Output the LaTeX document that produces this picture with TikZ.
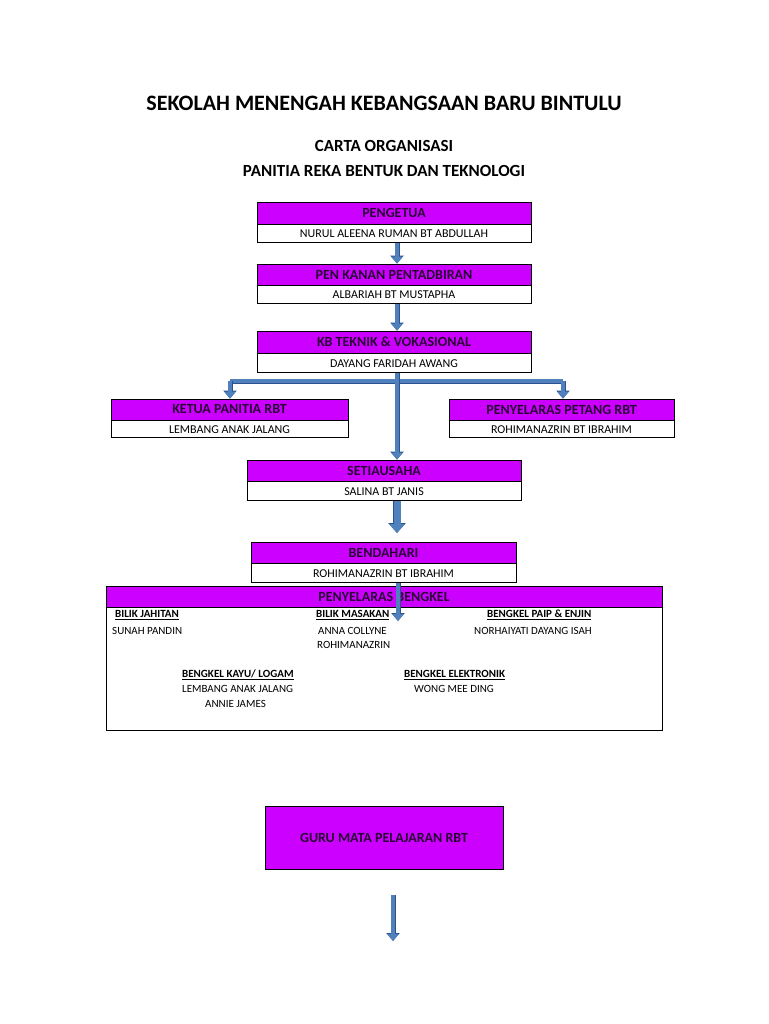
\documentclass[tikz,border=0pt]{standalone}
\usepackage{fontspec}
\setmainfont{Carlito}
\usetikzlibrary{arrows.meta}
\definecolor{mag}{RGB}{204,0,255}
\definecolor{blu}{RGB}{79,129,189}
\definecolor{bluD}{RGB}{47,82,143}
\begin{document}
\begin{tikzpicture}[x=1pt,y=-1pt,
 hdr/.style={draw=black,line width=0.8pt,fill=mag,inner sep=0pt,font=\fontsize{14}{16}\selectfont\bfseries,text=black!80!mag},
 nm/.style={draw=black,line width=0.8pt,fill=white,inner sep=0pt,font=\fontsize{12}{14}\selectfont},
 arr/.style={draw=blu,line width=3.5pt,-{Triangle[width=11pt,length=7pt]},preaction={draw=bluD,line width=5pt,-{Triangle[width=13pt,length=8pt]}}},
 ln/.style={draw=blu,line width=3.5pt,preaction={draw=bluD,line width=5pt}},
 sub/.style={anchor=west,inner sep=0pt,font=\fontsize{11}{13}\selectfont\bfseries},
 per/.style={anchor=west,inner sep=0pt,font=\fontsize{11}{13}\selectfont}]
\useasboundingbox[fill=white] (0,0) rectangle (768,1024);
\node[font=\fontsize{22}{26}\selectfont\bfseries] (t1) at (384,103) {SEKOLAH MENENGAH KEBANGSAAN BARU BINTULU};
\node[font=\fontsize{17}{20}\selectfont\bfseries] (t2) at (384,146) {CARTA ORGANISASI};
\node[font=\fontsize{17}{20}\selectfont\bfseries] (t3) at (384,171) {PANITIA REKA BENTUK DAN TEKNOLOGI};
% boxes
\node[hdr,minimum width=274pt,minimum height=22pt] (pg) at (394,213) {PENGETUA};
\node[nm,minimum width=274pt,minimum height=18pt,anchor=north] (pgn) at (pg.south) {NURUL ALEENA RUMAN BT ABDULLAH};
\node[hdr,minimum width=274pt,minimum height=21pt] (pk) at (394,274.5) {PEN KANAN PENTADBIRAN};
\node[nm,minimum width=274pt,minimum height=18pt,anchor=north] (pkn) at (pk.south) {ALBARIAH BT MUSTAPHA};
\node[hdr,minimum width=274pt,minimum height=22pt] (kb) at (394,342) {KB TEKNIK \& VOKASIONAL};
\node[nm,minimum width=274pt,minimum height=19pt,anchor=north] (kbn) at (kb.south) {DAYANG FARIDAH AWANG};
\node[hdr,minimum width=237pt,minimum height=21pt] (kp) at (229.5,409.5) {KETUA PANITIA RBT};
\node[nm,minimum width=237pt,minimum height=17pt,anchor=north] (kpn) at (kp.south) {LEMBANG ANAK JALANG};
\node[hdr,minimum width=225pt,minimum height=21pt] (pp) at (561.5,409.5) {PENYELARAS PETANG RBT};
\node[nm,minimum width=225pt,minimum height=17pt,anchor=north] (ppn) at (pp.south) {ROHIMANAZRIN BT IBRAHIM};
\node[hdr,minimum width=274pt,minimum height=21pt] (su) at (384,470.5) {SETIAUSAHA};
\node[nm,minimum width=274pt,minimum height=19pt,anchor=north] (sun) at (su.south) {SALINA BT JANIS};
\node[hdr,minimum width=265pt,minimum height=21pt] (bd) at (383.5,552.5) {BENDAHARI};
\node[nm,minimum width=265pt,minimum height=19pt,anchor=north] (bdn) at (bd.south) {ROHIMANAZRIN BT IBRAHIM};
\node[nm,minimum width=556pt,minimum height=144pt,anchor=north] (bk) at (384,586) {};
\node[hdr,minimum width=556pt,minimum height=21pt,anchor=north] (bkh) at (384,586) {PENYELARAS BENGKEL};
\node[hdr,minimum width=238pt,minimum height=63pt] (gr) at (384,837.5) {GURU MATA PELAJARAN RBT};
% bengkel contents
\node[sub] (s1) at (115,615) {\underline{BILIK JAHITAN}};
\node[sub] (s2) at (316,615) {\underline{BILIK MASAKAN}};
\node[sub] (s3) at (487,615) {\underline{BENGKEL PAIP \& ENJIN}};
\node[per] (p1) at (112,631) {SUNAH PANDIN};
\node[per] (p2) at (318,631) {ANNA COLLYNE};
\node[per] (p3) at (317,645) {ROHIMANAZRIN};
\node[per] (p4) at (474,631) {NORHAIYATI DAYANG ISAH};
\node[sub] (s4) at (182,675) {\underline{BENGKEL KAYU/ LOGAM}};
\node[sub] (s5) at (404,675) {\underline{BENGKEL ELEKTRONIK}};
\node[per] (p5) at (182,689) {LEMBANG ANAK JALANG};
\node[per] (p6) at (205,704) {ANNIE JAMES};
\node[per] (p7) at (414,689) {WONG MEE DING};
% connectors
\coordinate (hl) at (230,381);
\coordinate (hr) at (563,381);
\coordinate (bot1) at (393,895);
\coordinate (bot2) at (393,941);
\coordinate (bkin) at (398,621);
\draw[arr] (pgn.south -| 397,0) -- (pk.north -| 397,0);
\draw[arr] (pkn.south -| 397,0) -- (kb.north -| 397,0);
\draw[ln] (hl) -- (hr);
\draw[arr] (hl) -- (kp.north -| hl);
\draw[arr] (hr) -- (pp.north -| hr);
\draw[arr] (kbn.south -| 397,0) -- (su.north -| 397,0);
\draw[draw=blu,line width=7pt,-{Triangle[width=15pt,length=9pt]},preaction={draw=bluD,line width=8.5pt,-{Triangle[width=17pt,length=10pt]}}] (sun.south -| 397,0) -- (397,533);
\draw[arr] (bdn.south -| 398,0) -- (bkin);
\draw[arr] (bot1) -- (bot2);
\end{tikzpicture}
\end{document}
